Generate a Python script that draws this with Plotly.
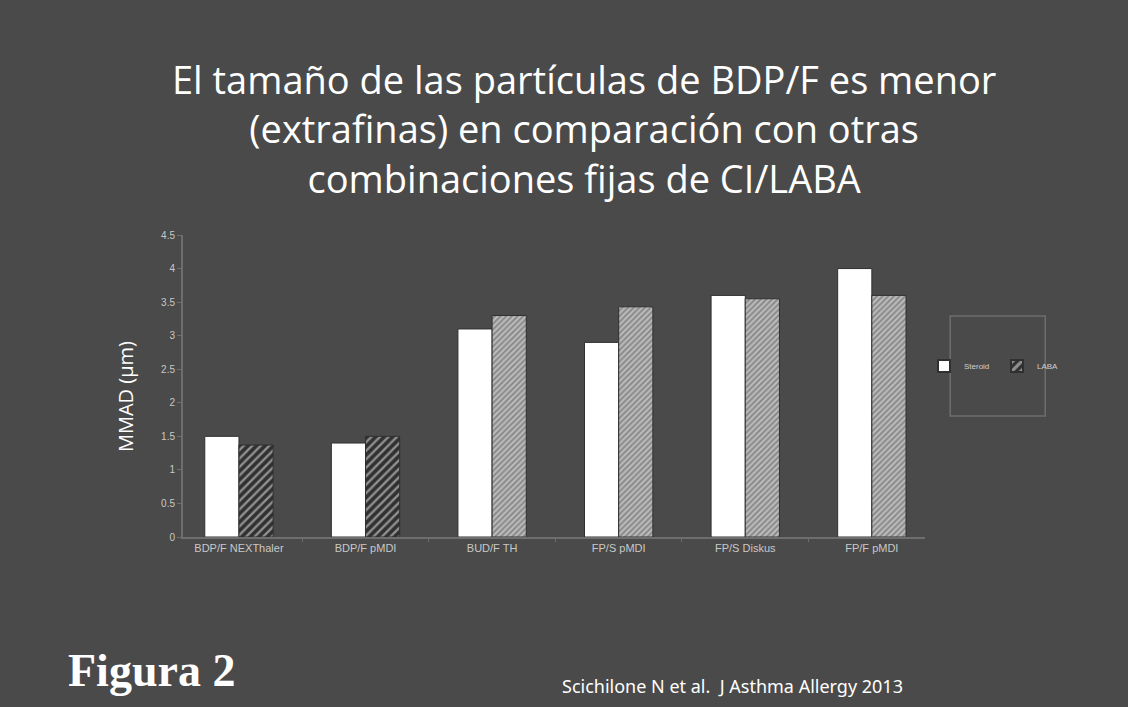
import plotly.graph_objects as go

categories = ["BDP/F NEXThaler", "BDP/F pMDI", "BUD/F TH", "FP/S pMDI", "FP/S Diskus", "FP/F pMDI"]
steroid = [1.5, 1.4, 3.1, 2.9, 3.6, 4.0]
laba = [1.37, 1.5, 3.3, 3.43, 3.55, 3.6]
y_ticks = [0, 0.5, 1, 1.5, 2, 2.5, 3, 3.5, 4, 4.5]
y_ticklabels = ["0", "0.5", "1", "1.5", "2", "2.5", "3", "3.5", "4", "4.5"]

BG = "#4a4a4a"

fig = go.Figure()
fig.add_trace(go.Bar(
    x=categories, y=steroid, name="Steroid",
    marker=dict(color="white", line=dict(color="#303030", width=1)),
))
fig.add_trace(go.Bar(
    x=categories, y=laba, name="LABA",
    marker=dict(
        color="#3a3a3a",
        line=dict(color="#303030", width=1),
        pattern=dict(shape="/", fgcolor="#f0f0f0",
                     bgcolor=["#303030", "#303030", "#8a8a8a", "#8a8a8a", "#8a8a8a", "#8a8a8a"],
                     size=[6, 6, 4, 4, 4, 4], solidity=[0.4, 0.4, 0.5, 0.5, 0.5, 0.5]),
    ),
))

fig.update_layout(
    width=1128, height=707,
    paper_bgcolor=BG, plot_bgcolor=BG,
    margin=dict(l=183, r=203, t=235, b=170),
    barmode="group", bargap=0.46, bargroupgap=0.0,
    showlegend=True,
    legend=dict(
        orientation="h", x=1.097, y=0.566, xanchor="center", yanchor="middle",
        font=dict(family="Liberation Sans, Arial", size=8, color="#d0d0d0"),
        bgcolor="rgba(0,0,0,0)", itemwidth=30, itemsizing="constant",
        entrywidth=28, entrywidthmode="pixels",
        traceorder="normal",
    ),
    font=dict(family="Liberation Sans, Arial", color="#c8c8c8"),
)

fig.update_xaxes(
    range=[-0.442, 5.42],
    showline=True, linecolor="#6e6e6e", linewidth=2,
    tickfont=dict(size=11, color="#c8c8c8"),
    ticks="outside", tickson="boundaries", ticklen=3, tickcolor="#6e6e6e",
    showgrid=False,
)
fig.update_yaxes(
    range=[0, 4.5], tickvals=y_ticks, ticktext=y_ticklabels,
    showline=True, linecolor="#6e6e6e", linewidth=2,
    ticks="outside", tickcolor="#6e6e6e", ticklen=4,
    tickfont=dict(size=10, color="#c8c8c8"),
    showgrid=False, zeroline=False,
)

# y-axis title
fig.add_annotation(
    xref="paper", yref="paper", x=(125 - 183) / 742, y=(537 - 397) / 302,
    xanchor="center", yanchor="middle", textangle=-90,
    text="MMAD (µm)", showarrow=False,
    font=dict(family="Open Sans, Noto Sans", size=20, color="white"),
)

# legend box
fig.add_shape(type="rect", xref="paper", yref="paper",
              x0=1.034, x1=1.162, y0=0.401, y1=0.732,
              line=dict(color="#6e6e6e", width=1.5), fillcolor="rgba(0,0,0,0)")

# title
fig.add_annotation(
    xref="paper", yref="paper", x=0.541, y=1.0, yshift=184, yanchor="top", xanchor="center",
    text="El tamaño de las partículas de BDP/F es menor<br>(extrafinas) en comparación con otras<br>combinaciones fijas de CI/LABA",
    showarrow=False, align="center",
    font=dict(family="Open Sans, Lato", size=38, color="white"),
)

fig.add_annotation(
    xref="paper", yref="paper", x=-0.158, y=(537 - 670) / 302, xanchor="left", yanchor="middle",
    text="<b>Figura 2</b>", showarrow=False,
    font=dict(family="Liberation Serif, DejaVu Serif", size=46, color="white"),
)
fig.add_annotation(
    xref="paper", yref="paper", x=(560 - 183) / 742, y=(537 - 686) / 302, xanchor="left", yanchor="middle",
    text="Scichilone N et al.  J Asthma Allergy 2013", showarrow=False,
    font=dict(family="Noto Sans, Open Sans", size=18, color="white"),
)

fig.write_html("out.html")
